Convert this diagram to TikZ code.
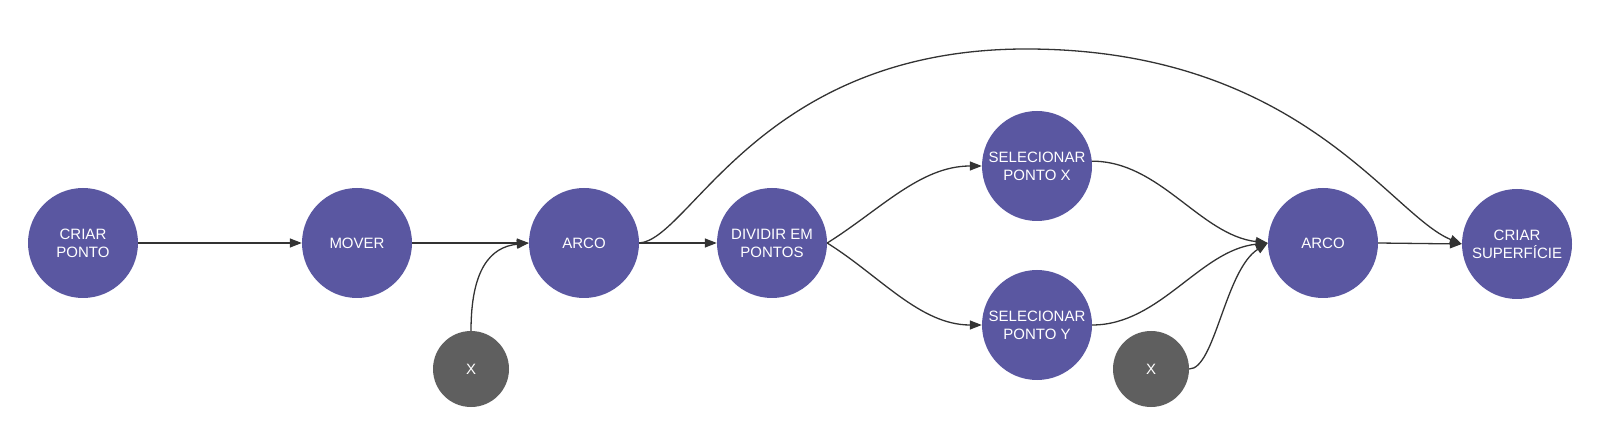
\documentclass[tikz,border=0pt]{standalone}
\usepackage{fontspec}
\setmainfont{Liberation Sans}
\usetikzlibrary{arrows.meta}
\definecolor{opblue}{HTML}{5A57A1}
\definecolor{vargray}{HTML}{5F5F5F}
\definecolor{edgegray}{HTML}{333333}
\begin{document}
\begin{tikzpicture}[x=1pt,y=-1pt,
    op/.style={circle,fill=opblue,text=white,minimum size=110pt,inner sep=0pt,
      align=center,font=\fontsize{15}{18}\selectfont},
    var/.style={circle,fill=vargray,text=white,minimum size=76pt,inner sep=0pt,
      font=\fontsize{15}{18}\selectfont},
    link/.style={draw=edgegray,line width=1.3pt,-{Triangle[length=12pt,width=9pt]}}]
  \useasboundingbox (0,0) rectangle (1600,435);
  \node[op] (ponto) at (83,243) {CRIAR\\PONTO};
  \node[op] (mover) at (357,243) {MOVER};
  \node[op] (arco1) at (584,243) {ARCO};
  \node[op] (dividir) at (772,243) {DIVIDIR EM\\PONTOS};
  \node[op] (selx) at (1037,166) {SELECIONAR\\PONTO X};
  \node[op] (sely) at (1037,325) {SELECIONAR\\PONTO Y};
  \node[op] (arco2) at (1323,243) {ARCO};
  \node[op] (sup) at (1517,244) {CRIAR\\SUPERFÍCIE};
  \node[var] (x1) at (471,369) {X};
  \node[var] (x2) at (1151,369) {X};
  \coordinate (topo) at (1026,49);
  \draw[link] (ponto.east) -- (mover.west);
  \draw[link] (mover.east) -- (arco1.west);
  \draw[link] (x1.north) .. controls (471,270) and (490,247) .. (arco1.west);
  \draw[link] (arco1.east) -- (dividir.west);
  \draw[link] (arco1.east) .. controls (690,240) and (760,49) .. (topo)
    .. controls (1300,49) and (1390,215) .. (sup.west);
  \draw[link] (dividir.east) .. controls (880,210) and (920,166) .. (selx.west);
  \draw[link] (dividir.east) .. controls (880,276) and (920,325) .. (sely.west);
  \draw[link] (selx.5) .. controls (1160,161) and (1200,235) .. (arco2.west);
  \draw[link] (sely.east) .. controls (1160,325) and (1200,250) .. (arco2.west);
  \draw[link] (x2.east) .. controls (1215,369) and (1225,270) .. (arco2.west);
  \draw[link] (arco2.east) -- (sup.west);
\end{tikzpicture}
\end{document}
